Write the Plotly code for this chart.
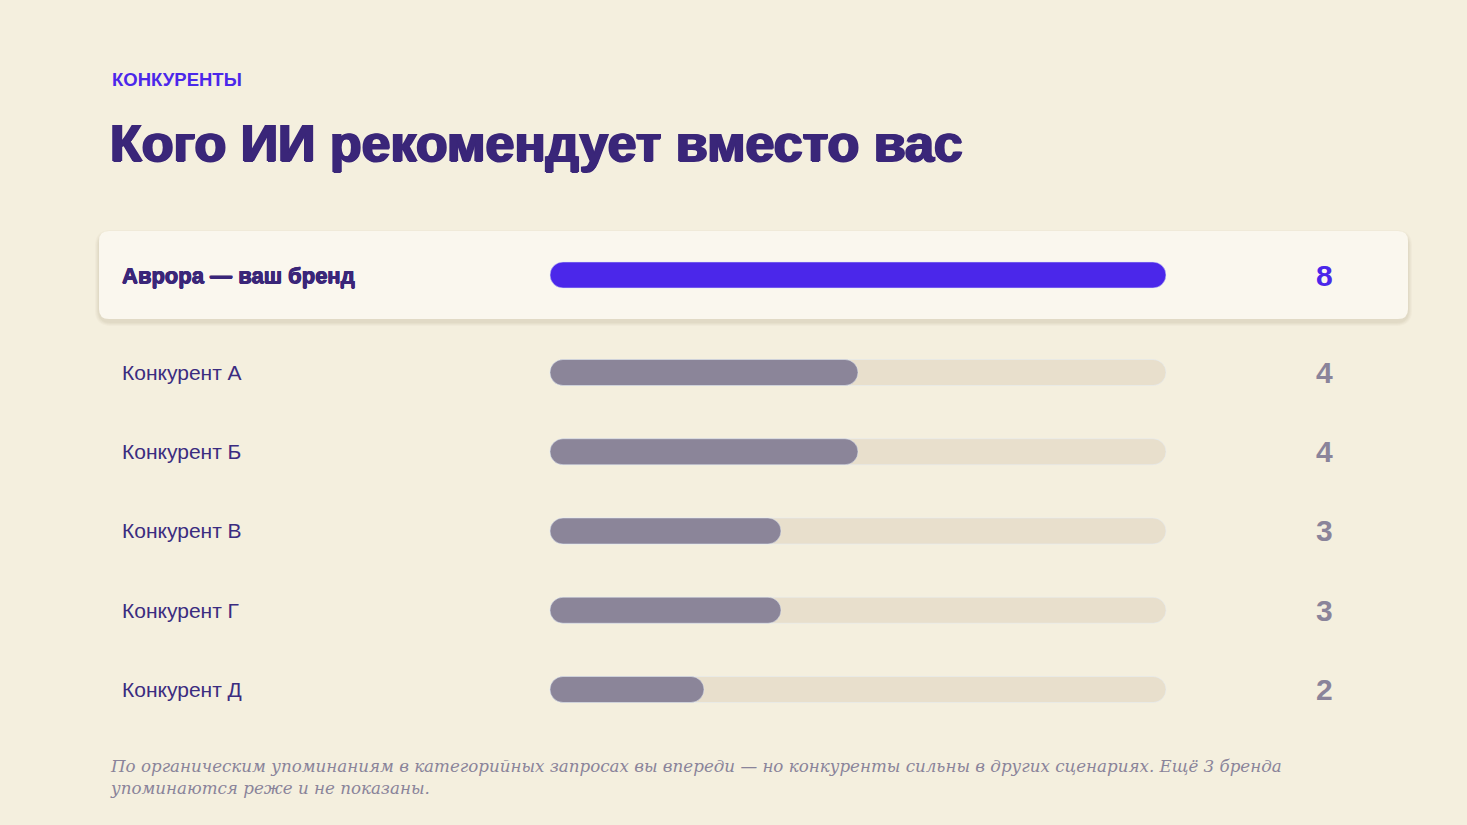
import plotly.graph_objects as go

# ---- data ----
hero_label = "Аврора — ваш бренд"
hero_value = 8
competitors = ["Конкурент А", "Конкурент Б", "Конкурент В", "Конкурент Г", "Конкурент Д"]
comp_values = [4, 4, 3, 3, 2]
max_value = 8

kicker = "КОНКУРЕНТЫ"
title = "Кого ИИ рекомендует вместо вас"
footnote = ("По органическим упоминаниям в категорийных запросах вы впереди — но конкуренты сильны в других сценариях. Ещё 3 бренда"
            "<br>упоминаются реже и не показаны.")

# ---- style ----
W, H = 1467, 825
BG = "#F4EFDE"
CARD = "#FAF7EE"
HERO = "#4B27EA"
BAR = "#8B8599"
TRACK = "#E8DFCC"
DARK = "#3A2679"
LABEL = "#3B2C80"
NOTE = "#8A849A"
SANS = "Liberation Sans, Arial, sans-serif"
SERIF = "DejaVu Serif, serif"

# pixel layout helpers
x0_px, x1_px = 550, 1166
ppu = (x1_px - x0_px) / max_value
xrange = [-x0_px / ppu, (W - x0_px) / ppu]

def py(px):
    return 1 - px / H

row_h = 79.25
first_c, last_c = 372.5, 689.5
comp_dom = [py(last_c + row_h / 2), py(first_c - row_h / 2)]
hero_c = 275
hero_dom = [py(hero_c + 40), py(hero_c - 40)]
bar_px = 26

fig = go.Figure()

# tracks
fig.add_trace(go.Bar(y=[hero_label], x=[max_value], orientation="h", base=0,
                     marker=dict(color=TRACK, cornerradius="50%"), width=bar_px / 80,
                     yaxis="y2", hoverinfo="skip", showlegend=False))
fig.add_trace(go.Bar(y=competitors, x=[max_value] * len(competitors), orientation="h", base=0,
                     marker=dict(color=TRACK, cornerradius="50%"), width=bar_px / row_h,
                     yaxis="y", hoverinfo="skip", showlegend=False))
# values
fig.add_trace(go.Bar(y=[hero_label], x=[hero_value], orientation="h", base=0,
                     marker=dict(color=HERO, cornerradius="50%"), width=bar_px / 80,
                     yaxis="y2", showlegend=False))
fig.add_trace(go.Bar(y=competitors, x=comp_values, orientation="h", base=0,
                     marker=dict(color=BAR, cornerradius="50%"), width=bar_px / row_h,
                     yaxis="y", showlegend=False))

def rrect(x0, y0, x1, y1, r):
    # pixel coords, y measured downward from top -> negate
    Y = lambda v: -v
    return (f"M{x0 + r},{Y(y0)} L{x1 - r},{Y(y0)} Q{x1},{Y(y0)} {x1},{Y(y0 + r)} "
            f"L{x1},{Y(y1 - r)} Q{x1},{Y(y1)} {x1 - r},{Y(y1)} L{x0 + r},{Y(y1)} "
            f"Q{x0},{Y(y1)} {x0},{Y(y1 - r)} L{x0},{Y(y0 + r)} Q{x0},{Y(y0)} {x0 + r},{Y(y0)} Z")

shapes = []
# soft shadow
for i, op in enumerate([0.03, 0.035, 0.04, 0.045]):
    g = 4 - i
    shapes.append(dict(type="path", xref="paper", yref="paper", xsizemode="pixel", ysizemode="pixel",
                       xanchor=0, yanchor=1,
                       path=rrect(99 - g, 231 - g + 3, 1408 + g, 319 + g + 3, 12 + g),
                       fillcolor=f"rgba(120,100,60,{op})", line=dict(width=0), layer="below"))
shapes.append(dict(type="path", xref="paper", yref="paper", xsizemode="pixel", ysizemode="pixel",
                   xanchor=0, yanchor=1, path=rrect(99, 231, 1408, 319, 10),
                   fillcolor=CARD, line=dict(width=0), layer="below"))

heavy = lambda c, d: f"{d}px 0 0 {c}, -{d}px 0 0 {c}, 0 {d}px 0 {c}"

ann = []
ann.append(dict(text=kicker, xref="paper", yref="paper", x=110 / W, y=py(80), xanchor="left", yanchor="middle",
                showarrow=False, font=dict(family=SANS, size=18.5, color=HERO, weight=700)))
ann.append(dict(text=title, xref="paper", yref="paper", x=108 / W, y=py(143), xanchor="left", yanchor="middle",
                showarrow=False, font=dict(family=SANS, size=52, color=DARK, weight=700,
                                           shadow=heavy(DARK, 1.2))))
ann.append(dict(text=hero_label, xref="paper", yref="y2", x=120 / W, y=hero_label, xanchor="left", yanchor="middle",
                showarrow=False, font=dict(family=SANS, size=22, color=DARK, weight=700,
                                           shadow=heavy(DARK, 0.5))))
ann.append(dict(text=str(hero_value), xref="paper", yref="y2", x=1324 / W, y=hero_label, xanchor="center",
                yanchor="middle", showarrow=False, font=dict(family=SANS, size=30, color=HERO, weight=700)))
for c, v in zip(competitors, comp_values):
    ann.append(dict(text=c, xref="paper", yref="y", x=120 / W, y=c, xanchor="left", yanchor="middle",
                    showarrow=False, font=dict(family=SANS, size=21, color=LABEL)))
    ann.append(dict(text=str(v), xref="paper", yref="y", x=1324 / W, y=c, xanchor="center", yanchor="middle",
                    showarrow=False, font=dict(family=SANS, size=30, color=NOTE, weight=700)))
ann.append(dict(text=footnote, xref="paper", yref="paper", x=108 / W, y=py(754), xanchor="left", yanchor="top",
                align="left", showarrow=False,
                font=dict(family=SERIF, size=16.7, color=NOTE, style="italic")))

fig.update_layout(
    width=W, height=H, margin=dict(l=0, r=0, t=0, b=0, pad=0),
    paper_bgcolor=BG, plot_bgcolor="rgba(0,0,0,0)",
    barmode="overlay", showlegend=False,
    xaxis=dict(range=xrange, domain=[0, 1], visible=False, fixedrange=True),
    yaxis=dict(domain=comp_dom, type="category", categoryorder="array", categoryarray=competitors,
               range=[len(competitors) - 0.5, -0.5], visible=False, fixedrange=True),
    yaxis2=dict(domain=hero_dom, type="category", range=[0.5, -0.5], visible=False, fixedrange=True,
                anchor="x"),
    shapes=shapes, annotations=ann,
)

fig.write_html("out.html", config={"displayModeBar": False})
